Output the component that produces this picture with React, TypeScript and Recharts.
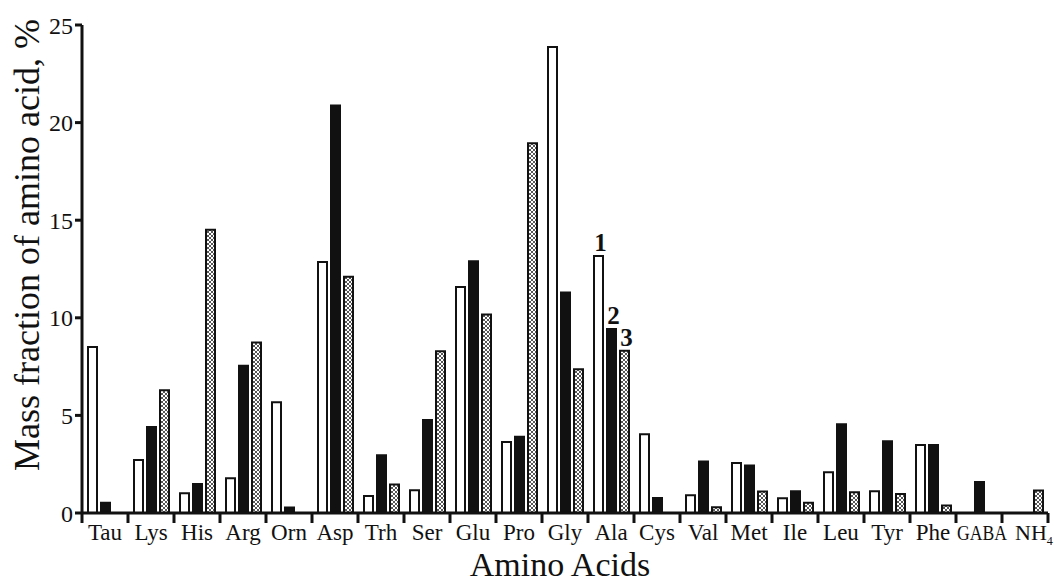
import React from 'react'
import { BarChart, Bar, XAxis, YAxis, LabelList } from 'recharts'

const categories = ['Tau', 'Lys', 'His', 'Arg', 'Orn', 'Asp', 'Trh', 'Ser', 'Glu', 'Pro', 'Gly', 'Ala', 'Cys', 'Val', 'Met', 'Ile', 'Leu', 'Tyr', 'Phe', 'GABA', 'NH4']
const series1 = [8.5, 2.72, 1.01, 1.78, 5.68, 12.86, 0.87, 1.16, 11.58, 3.64, 23.87, 13.16, 4.04, 0.91, 2.56, 0.76, 2.09, 1.11, 3.49, 0, 0]
const series2 = [0.53, 4.41, 1.49, 7.54, 0.28, 20.87, 2.96, 4.77, 12.9, 3.9, 11.29, 9.42, 0.77, 2.64, 2.43, 1.11, 4.55, 3.68, 3.49, 1.59, 0]
const series3 = [0, 6.29, 14.51, 8.74, 0, 12.1, 1.46, 8.29, 10.17, 18.94, 7.37, 8.31, 0, 0.29, 1.1, 0.53, 1.06, 0.97, 0.39, 0, 1.15]
const seriesLabels = ['1', '2', '3']
const labelledCategory = 'Ala'
const yTicks = [0, 5, 10, 15, 20, 25]

const data = categories.map((name, i) => ({
  name,
  s1: series1[i],
  s2: series2[i],
  s3: series3[i],
  l1: name === labelledCategory ? seriesLabels[0] : undefined,
  l2: name === labelledCategory ? seriesLabels[1] : undefined,
  l3: name === labelledCategory ? seriesLabels[2] : undefined,
}))

const W = 1054
const H = 583
const PLOT_LEFT = 82
const PLOT_RIGHT = 1048
const BAND = (PLOT_RIGHT - PLOT_LEFT) / categories.length
const FONT = '"Liberation Serif", "Times New Roman", serif'

// eslint-disable-next-line @typescript-eslint/no-explicit-any
const XTick = ({ x, y, payload, index }: any) => {
  const label: string = payload.value
  const sub = label.match(/^([A-Za-z]+)(\d+)$/)
  const half = BAND / 2
  const common = { y: y + 27, fontFamily: FONT, fill: '#111' }
  return (
    <g>
      <line x1={x - half} x2={x - half} y1={y} y2={y + 10} stroke="#111" strokeWidth={3} />
      {index === categories.length - 1 && (
        <line x1={x + half} x2={x + half} y1={y} y2={y + 10} stroke="#111" strokeWidth={3} />
      )}
      {sub ? (
        // chemical formula: last digits as subscript
        <text {...common} x={x - 10} textAnchor="start" fontSize={22}>
          {sub[1]}
          <tspan fontSize={12} dy={5}>{sub[2]}</tspan>
        </text>
      ) : (
        <text
          {...common}
          x={label.length > 3 ? x + 3 : x}
          textAnchor="middle"
          fontSize={label.length > 3 ? 20 : 23}
          textLength={label.length > 3 ? 50 : undefined}
          lengthAdjust="spacingAndGlyphs"
        >
          {label}
        </text>
      )}
    </g>
  )
}

// eslint-disable-next-line @typescript-eslint/no-explicit-any
const NumberLabel = ({ x, y, width, value }: any) => {
  if (value == null) return null
  return (
    <text x={x + width / 2 + 2} y={y - 5} textAnchor="middle" fontFamily={FONT} fontSize={25} fontWeight="bold" fill="#111">
      {value}
    </text>
  )
}

export default function App() {
  return (
    <div style={{ position: 'absolute', left: 0, top: 0, background: '#fff' }}>
      <BarChart
        width={W}
        height={H}
        data={data}
        margin={{ top: 25, right: W - PLOT_RIGHT, left: 0, bottom: 0 }}
        barCategoryGap={6}
        barGap={4}
      >
        <defs>
          <pattern id="hatch" patternUnits="userSpaceOnUse" width={4} height={4}>
            <rect width={4} height={4} fill="#fff" />
            <path d="M0,0 L4,4 M4,0 L0,4" stroke="#444" strokeWidth={0.9} />
          </pattern>
        </defs>
        <XAxis
          dataKey="name"
          axisLine={{ stroke: '#111', strokeWidth: 3 }}
          tickLine={false}
          tickSize={0}
          tickMargin={0}
          interval={0}
          height={70}
          tick={<XTick />}
          label={{
            value: 'Amino Acids',
            content: () => (
              <text x={560} y={576} textAnchor="middle" fontFamily={FONT} fontSize={34} fill="#111">
                Amino Acids
              </text>
            ),
          }}
        />
        <YAxis
          domain={[0, 25]}
          ticks={yTicks}
          width={PLOT_LEFT}
          axisLine={{ stroke: '#111', strokeWidth: 3 }}
          tickLine={{ stroke: '#111', strokeWidth: 3 }}
          tickSize={7}
          tickMargin={2}
          tick={{ fontFamily: FONT, fontSize: 24, fill: '#111' }}
          label={{
            value: 'Mass fraction of amino acid, %',
            content: () => (
              <text
                x={39}
                y={245}
                transform="rotate(-90 39 245)"
                textAnchor="middle"
                fontFamily={FONT}
                fontSize={36}
                fill="#111"
              >
                Mass fraction of amino acid, %
              </text>
            ),
          }}
        />
        <Bar dataKey="s1" fill="#fff" stroke="#111" strokeWidth={2} isAnimationActive={false}>
          <LabelList dataKey="l1" content={<NumberLabel />} />
        </Bar>
        <Bar dataKey="s2" fill="#111" stroke="#111" strokeWidth={2} isAnimationActive={false}>
          <LabelList dataKey="l2" content={<NumberLabel />} />
        </Bar>
        <Bar dataKey="s3" fill="url(#hatch)" stroke="#111" strokeWidth={2} isAnimationActive={false}>
          <LabelList dataKey="l3" content={<NumberLabel />} />
        </Bar>
      </BarChart>
    </div>
  )
}
